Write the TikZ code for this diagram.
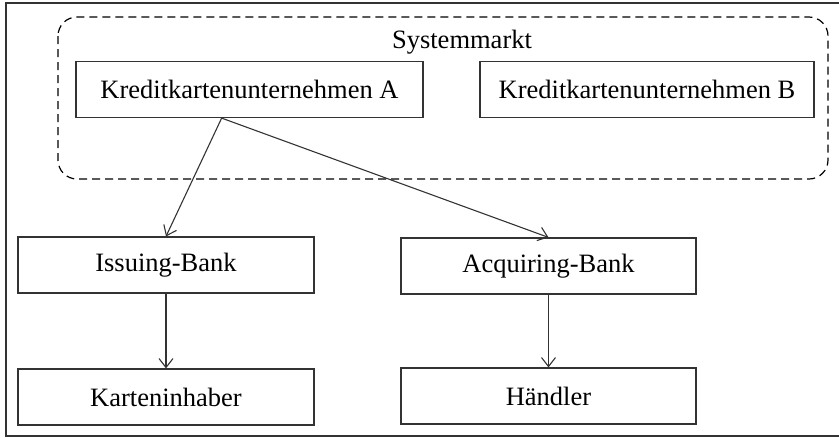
\documentclass[tikz,border=0pt]{standalone}
\usepackage{fontspec}
\setmainfont{Liberation Serif}
\usetikzlibrary{arrows.meta,calc,positioning}
\definecolor{lnColor}{HTML}{333333}
\tikzset{
	box/.style={draw=lnColor, line width=1.2pt, minimum height=56pt, inner sep=0pt},
	flow/.style={->, draw=lnColor, line width=1.1pt, >={Straight Barb[length=9pt,width=14pt,line width=1.1pt]}}
}

\begin{document}
\begin{tikzpicture}[x=1pt, y=-1pt, font=\fontsize{26.5}{30}\selectfont]
				\useasboundingbox (0,0) rectangle (839,437);
				\draw[lnColor, line width=1.2pt] (845,3) -- (6,3) -- (6,436) -- (845,436);
				
				% Systemmarkt
				\draw[dashed, dash pattern=on 8pt off 5pt, line width=1.2pt, rounded corners=19pt] (58,17) rectangle (828,179);
				\node (sm) at (462,42) {Systemmarkt};
				
				\node[box, minimum width=347pt] (kuA) at (249.5,89.5) {Kreditkartenunternehmen A};
				\node[box, minimum width=334pt] (kuB) at (647,89.5) {Kreditkartenunternehmen B};
				
				\node[box, minimum width=296pt] (iss) at (166,265) {Issuing-Bank};
				\node[box, minimum width=296pt] (kih) at (166,397) {Karteninhaber};
				\node[box, minimum width=295pt] (acq) at (548.5,266) {Acquiring-Bank};
				\node[box, minimum width=295pt] (hdl) at (548.5,396) {Händler};
				
				\coordinate (kuAout) at ($(kuA.south west)!0.42!(kuA.south east)$);
				
				\draw[flow] (kuAout) -- (iss.north);
				\draw[flow] (kuAout) -- (acq.north);
				\draw[flow] (iss) -- (kih);
				\draw[flow] (acq) -- (hdl);
			\end{tikzpicture}
\end{document}
